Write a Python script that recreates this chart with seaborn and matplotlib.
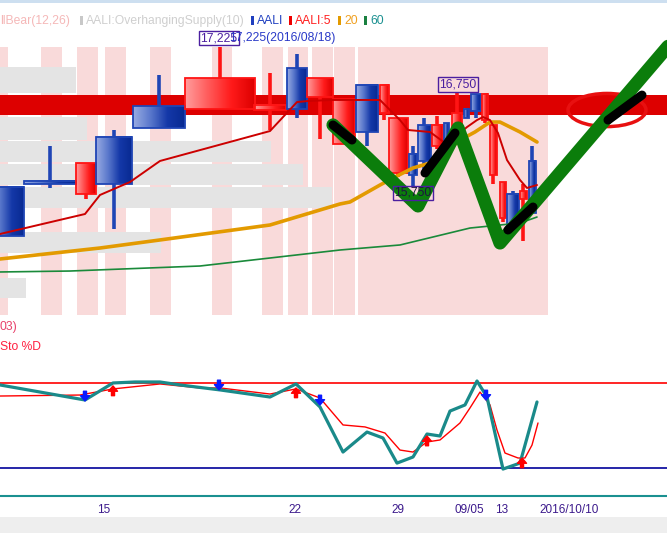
import numpy as np
import matplotlib
matplotlib.use("Agg")
import matplotlib.pyplot as plt
import seaborn as sns
from matplotlib.colors import LinearSegmentedColormap
from matplotlib.patches import Ellipse, Rectangle

# ---- candles (slot position on the compressed time axis, slot width, OHLC)
cx = [6, 50, 86, 114, 159, 220, 270, 297, 320, 344, 367, 384, 398, 413, 424, 437, 446,
      457, 466, 476, 485, 493, 503, 513, 523, 532]
cw = [36, 52, 20, 36, 52, 70, 32, 20, 26, 22, 22, 9, 19, 8, 13, 11, 5,
      10, 5, 10, 6, 7, 6, 12, 7, 7]
c_open = [15225, 15790, 16000, 15775, 16375, 16900, 16600, 16575, 16900, 16675, 16325, 16825, 16475,
          15875, 16025, 16400, 16225, 16525, 16475, 16550, 16725, 16400, 15800, 15300, 15700, 15475]
c_high = [15750, 16175, 16000, 16350, 16925, 17225, 16950, 17150, 16900, 16675, 16825, 16825, 16475,
          16175, 16475, 16500, 16425, 16750, 16575, 16725, 16725, 16400, 15800, 15700, 15775, 16175]
c_low = [15225, 15740, 15625, 15300, 16375, 16575, 16350, 16475, 16250, 16200, 16175, 16450, 15850,
         15750, 15900, 16150, 16225, 16375, 16475, 16475, 16425, 15775, 15375, 15300, 15175, 15475]
c_close = [15750, 15800, 15675, 16275, 16600, 16575, 16575, 17000, 16700, 16200, 16825, 16525, 15900,
           16100, 16400, 16175, 16425, 16375, 16575, 16725, 16450, 15875, 15425, 15675, 15625, 16025]

# moving averages
ma5_x = [0, 85, 100, 130, 160, 270, 297, 308, 333, 355, 380, 400, 408, 430, 445, 455, 467, 477,
         483, 490, 498, 507, 520, 527, 537]
ma5_y = [15251, 15462, 15663, 15800, 16022, 16338, 16644, 16655, 16666, 16666, 16666, 16454, 16349,
         16328, 16212, 16275, 16380, 16454, 16486, 16454, 16317, 16032, 15821, 15737, 15768]
ma20_x = [0, 100, 160, 270, 340, 350, 380, 393, 413, 430, 445, 460, 475, 490, 500, 520, 537]
ma20_y = [14987, 15103, 15188, 15346, 15568, 15589, 15768, 15842, 15948, 16000, 16106, 16243, 16328,
          16433, 16433, 16328, 16222]
ma60_x = [0, 70, 200, 340, 400, 470, 520, 537]
ma60_y = [14850, 14860, 14913, 15082, 15135, 15314, 15367, 15430]

# hand drawn pattern line
draw_x = [333, 418, 458, 500, 670]
draw_y = [16402, 15547, 16370, 15156, 17257]
dark_segs = [((333, 16402), (352, 16243)), ((425, 15895), (455, 16317)),
             ((508, 15293), (533, 15536)), ((608, 16454), (642, 16718))]

# background stripes (holidays) and overhanging supply bars
stripe_start = [0, 41, 77, 105, 150, 212, 262, 288, 312, 334, 358]
stripe_end = [8, 62, 98, 126, 171, 232, 283, 308, 333, 355, 548]
supply_low = [16739, 16243, 16011, 15768, 15525, 15050, 14575]
supply_high = [17014, 16486, 16233, 15990, 15747, 15272, 14787]
supply_len = [76, 87, 271, 303, 332, 161, 26]
band_low, band_high = 16507, 16718

# stochastic
k_x = [0, 85, 113, 135, 160, 180, 220, 270, 296, 320, 343, 367, 383, 397, 413, 427, 440, 450, 465,
       477, 487, 492, 503, 520, 537]
k_v = [78.6, 68.0, 80.0, 80.7, 80.7, 78.6, 75.1, 70.1, 79.3, 63.1, 31.3, 45.4, 41.2, 23.5, 27.8,
       44.0, 42.6, 60.2, 64.5, 81.4, 70.1, 53.9, 19.3, 23.5, 66.6]
d_x = [0, 80, 113, 160, 200, 220, 270, 296, 320, 343, 365, 385, 400, 413, 427, 440, 460, 470, 480,
       490, 497, 505, 518, 525, 532, 538]
d_v = [70.8, 71.5, 75.8, 79.3, 76.5, 76.5, 72.2, 75.8, 69.4, 50.4, 49.0, 44.7, 32.7, 31.3, 38.4,
       39.8, 51.8, 62.4, 73.6, 64.5, 46.8, 30.6, 27.1, 27.1, 36.2, 51.8]
sell_x = [85, 219, 320, 486]
sell_v = [67.3, 75.1, 64.5, 68.0]
buy_x = [113, 296, 427, 522]
buy_v = [77.9, 76.5, 42.6, 27.1]

tick_pos = [104, 295, 398, 469, 502, 569]
tick_lab = ["15", "22", "29", "09/05", "13", "2016/10/10"]

sns.set_style("white")
plt.rcParams["font.family"] = ["Liberation Sans", "DejaVu Sans"]

W, H = 667, 533
fig = plt.figure(figsize=(W / 100, H / 100), dpi=100)
fig.patch.set_facecolor("white")


def fy(px):
    return 1 - px / H


ax = fig.add_axes([0, fy(318), 1, (318 - 10) / H])
ax.set_axis_off()

# pink stripes
ax.bar(stripe_start, [17225 - 14396] * len(stripe_start),
       width=np.array(stripe_end) - np.array(stripe_start), bottom=14396,
       align="edge", color="#f9dada", lw=0, zorder=0)
# supply bars
ax.barh(np.array(supply_low), supply_len, height=np.array(supply_high) - np.array(supply_low),
        left=0, align="edge", color="#e4e4e4", lw=0, zorder=1)
ax.axhspan(band_low, band_high, color="#dd0000", lw=0, zorder=2)

blue_cm = LinearSegmentedColormap.from_list("b", ["#98abe2", "#5a78cc", "#1438a8", "#082a92"])
red_cm = LinearSegmentedColormap.from_list("r", ["#ff9c9c", "#ff5a5a", "#ff1a1a", "#dd0000"])
grad = np.linspace(0, 1, 64).reshape(1, -1)

for x, w, o, h, l, c in zip(cx, cw, c_open, c_high, c_low, c_close):
    up = c >= o
    edge = "#1f45b5" if up else "#ff1414"
    ax.vlines(x, l, h, color=edge, lw=2.6, zorder=3.9)
    b0, b1 = min(o, c), max(o, c)
    if b1 - b0 < 30:
        b0, b1 = b0 - 14, b1 + 14
    ax.imshow(grad, cmap=blue_cm if up else red_cm, extent=[x - w / 2, x + w / 2, b0, b1],
              aspect="auto", interpolation="bicubic", zorder=4)
    ax.add_patch(Rectangle((x - w / 2, b0), w, b1 - b0, fill=False, ec=edge, lw=1.3, zorder=4.1))

sns.lineplot(x=ma60_x, y=ma60_y, ax=ax, color="#1a8a3a", lw=1.2, sort=False, estimator=None, zorder=5)
sns.lineplot(x=ma20_x, y=ma20_y, ax=ax, color="#e39a00", lw=2.6, sort=False, estimator=None, zorder=5)
sns.lineplot(x=ma5_x, y=ma5_y, ax=ax, color="#cc0000", lw=1.4, sort=False, estimator=None, zorder=5)

ax.add_patch(Ellipse((607, 16560), 78, 350, fill=False, ec="#e81010", lw=2.5, zorder=5.5))
ax.plot(draw_x, draw_y, color="#0b7d0b", lw=9.5, solid_capstyle="round",
        solid_joinstyle="round", zorder=6)
for (x0, y0), (x1, y1) in dark_segs:
    ax.plot([x0, x1], [y0, y1], color="black", lw=6.5, solid_capstyle="round", zorder=6.5)

box = dict(boxstyle="square,pad=0.12", fc="none", ec="#4b1fa0", lw=1)
ax.text(458, 16834, "16,750", ha="center", va="center", fontsize=8.7, color="#4b1fa0", bbox=box, zorder=7)
ax.text(413, 15684, "15,750", ha="center", va="center", fontsize=8.7, color="#1e1440", bbox=box, zorder=7)
ax.text(219, 17320, "17,225", ha="center", va="center", fontsize=8.7, color="#4b1fa0", bbox=box, zorder=7)
ax.text(229, 17320, "17,225(2016/08/18)", ha="left", va="center", fontsize=8.7, color="#2a3ac8", zorder=7)

ax.set_xlim(0, W)
ax.set_ylim(14364, 17616)

# ---- stochastic panel
sx = fig.add_axes([0, fy(496), 1, (496 - 360) / H])
sx.set_facecolor("none")
sx.axhline(80, color="#ff0000", lw=1.2)
sx.axhline(20, color="#000099", lw=1.2)
sns.lineplot(x=d_x, y=d_v, ax=sx, color="#ff0000", lw=1.0, sort=False, estimator=None)
sns.lineplot(x=k_x, y=k_v, ax=sx, color="#1a8a8a", lw=2.3, sort=False, estimator=None)
arrow_style = dict(width=2.2, headwidth=6.5, headlength=3.8, shrink=0)
for x, v in zip(sell_x, sell_v):
    sx.annotate("", xy=(x, v), xytext=(0, 7), textcoords="offset points",
                arrowprops=dict(color="#0a1aff", **arrow_style))
for x, v in zip(buy_x, buy_v):
    sx.annotate("", xy=(x, v), xytext=(0, -7), textcoords="offset points",
                arrowprops=dict(color="#ff0000", **arrow_style))
sx.set_xlim(0, W)
sx.set_ylim(0.3, 96.2)
for s in ["top", "left", "right"]:
    sx.spines[s].set_visible(False)
sx.spines["bottom"].set_color("#1a9090")
sx.spines["bottom"].set_linewidth(1.5)
sx.set_yticks([])
sx.set_xticks(tick_pos, tick_lab)
sx.tick_params(axis="x", length=0, pad=6, labelsize=8.5, labelcolor="#3c1a8c")
sx.set_xlabel("")
sx.set_ylabel("")

# ---- frame decorations and legend text
fig.add_artist(Rectangle((0, fy(3)), 1, 3 / H, transform=fig.transFigure, color="#cddff0", lw=0))
fig.add_artist(Rectangle((0, 0), 1, 16 / H, transform=fig.transFigure, color="#eeeeee", lw=0))

legend_items = [(0, None, "llBear(12,26)", "#f5b8b8"),
                (80, "#c8c8c8", "AALI:OverhangingSupply(10)", "#cfcfcf"),
                (251, "#1f3fbf", "AALI", "#2040c0"),
                (289, "#ee0000", "AALI:5", "#ff2020"),
                (338, "#e39a00", "20", "#f0a020"),
                (364, "#1a8040", "60", "#1a9090")]
for x, mk, label, col in legend_items:
    tx = x
    if mk is not None:
        fig.add_artist(Rectangle((x / W, fy(25)), 3 / W, 9 / H, transform=fig.transFigure, color=mk, lw=0))
        tx = x + 6
    fig.text(tx / W, fy(21), label, ha="left", va="center", fontsize=8.7, color=col)

fig.text(0 / W, fy(327), "03)", ha="left", va="center", fontsize=8.7, color="#e8406a")
fig.text(0 / W, fy(347), "Sto %D", ha="left", va="center", fontsize=8.7, color="#ff2040")

fig.savefig("out.png", dpi=100)
